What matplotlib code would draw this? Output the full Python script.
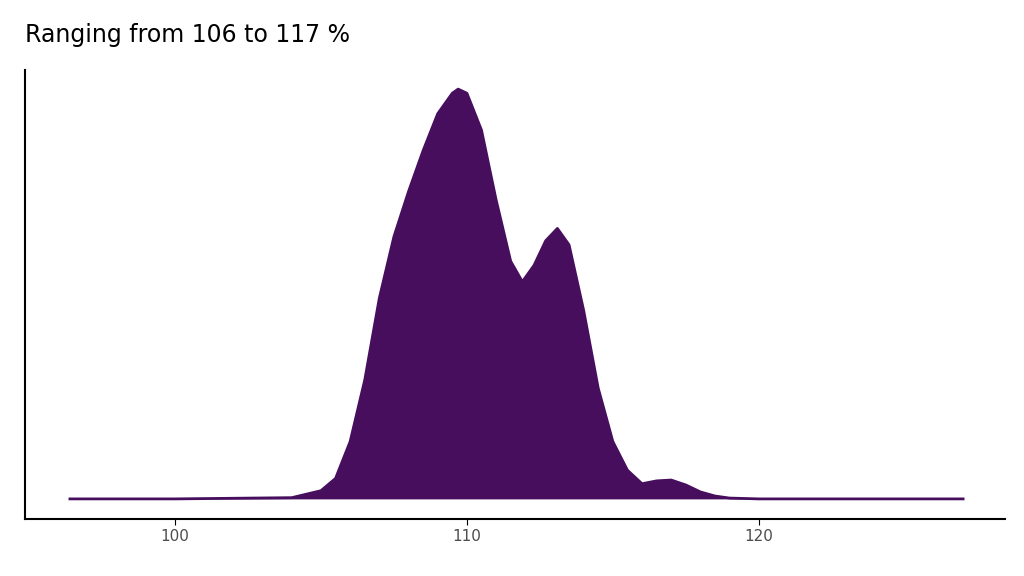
import matplotlib
matplotlib.use("Agg")
import matplotlib.pyplot as plt

x_vals = [96.4, 100, 104, 105, 105.5, 106, 106.5, 107, 107.5, 108, 108.5, 109, 109.5, 109.7,
          110, 110.5, 111, 111.5, 111.9, 112.3, 112.7, 113.1, 113.5, 114, 114.5, 115, 115.5,
          116, 116.5, 117, 117.5, 118, 118.5, 119, 120, 127]
density = [0, 0, 0.003, 0.02, 0.05, 0.14, 0.29, 0.49, 0.64, 0.75, 0.85, 0.94, 0.99, 1.0,
           0.99, 0.90, 0.73, 0.58, 0.53, 0.57, 0.63, 0.66, 0.62, 0.46, 0.27, 0.14, 0.07,
           0.037, 0.044, 0.046, 0.034, 0.017, 0.007, 0.002, 0, 0]
ticks = [100, 110, 120]
title = "Ranging from 106 to 117 %"
color = "#470E5E"

fig = plt.figure(figsize=(10.24, 5.76), dpi=100)
ax = fig.add_axes([0.0244, 0.099, 0.9566, 0.779])
ax.fill_between(x_vals, 0, density, color=color, lw=0)
ax.plot(x_vals, density, color=color, lw=2)
ax.set_xlim(94.86, 128.42)
ax.set_ylim(-0.049, 1.046)
ax.set_xticks(ticks)
ax.set_yticks([])
ax.tick_params(axis='x', colors='#4d4d4d', labelsize=11, length=4)
ax.tick_params(axis='x', color='black')
for s in ['top', 'right']:
    ax.spines[s].set_visible(False)
for s in ['left', 'bottom']:
    ax.spines[s].set_linewidth(1.5)
fig.text(0.0244, 0.94, title, fontsize=17, va='center', ha='left')
fig.savefig("out.png", dpi=100)
